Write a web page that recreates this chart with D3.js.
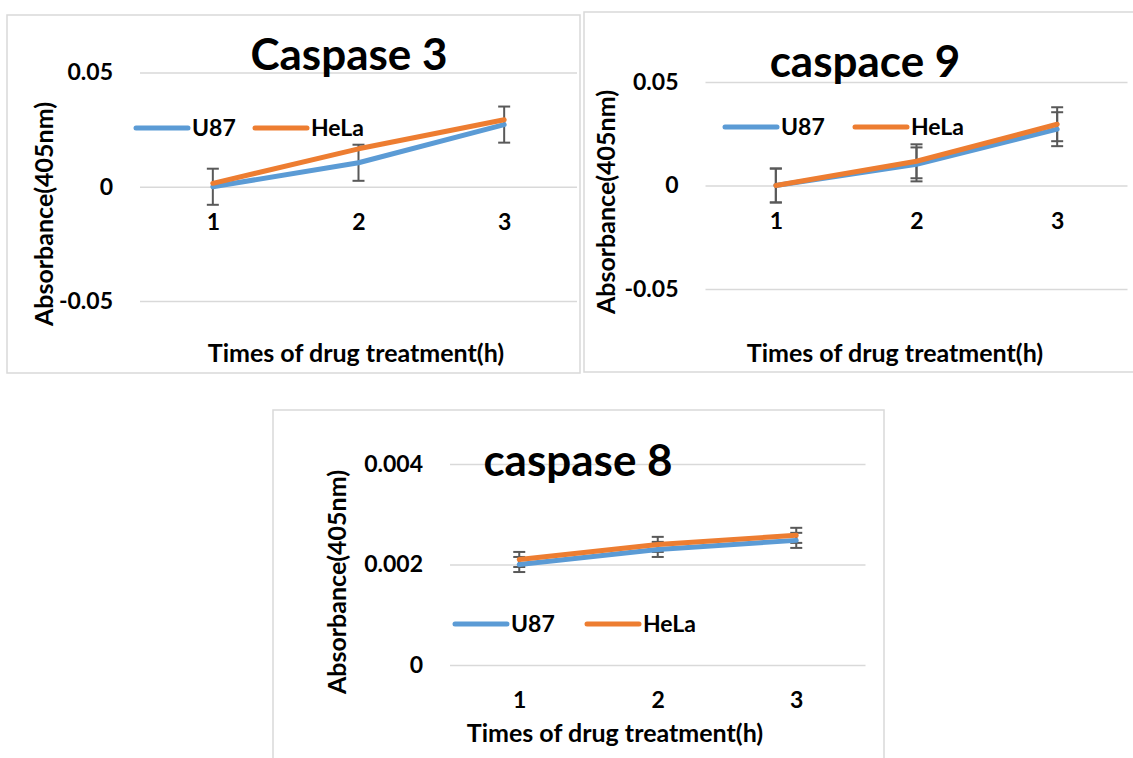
<!DOCTYPE html>
<html>
<head>
<meta charset="utf-8">
<script src="https://cdn.jsdelivr.net/npm/d3@7"></script>
<style>
  body { margin: 0; background: #fff; }
  svg text { font-family: Lato, 'Open Sans', sans-serif; font-weight: bold; fill: #000; }
</style>
</head>
<body>
<svg id="canvas"></svg>
<script>
// category labels (hours)
const hours = ['1', '2', '3'];

// caspase 3
const c3U87 = [0, 0.0105, 0.0272];
const c3HeLa = [0.0015, 0.0166, 0.0293];
const c3U87Err = [0.0079, 0.0079, 0.0079];

// caspace 9
const c9U87 = [0, 0.0102, 0.0272];
const c9HeLa = [0, 0.0117, 0.0296];
const c9U87Err = [0.0082, 0.0082, 0.0082];
const c9HeLaErr = [0.0082, 0.0082, 0.0082];

// caspase 8
const c8U87 = [0.0020, 0.0023, 0.00248];
const c8HeLa = [0.0021, 0.0024, 0.00258];
const c8U87Err = [0.00015, 0.00015, 0.00015];
const c8HeLaErr = [0.00015, 0.00015, 0.00015];

const ticksWide = [-0.05, 0, 0.05];
const ticksSmall = [0, 0.002, 0.004];

const seriesNames = ['U87', 'HeLa'];
const colors = ['#5B9BD5', '#ED7D31'];

let width = 1133;
let height = 758;

let labelSize = 23;
let axisTitleSize = 25;
let titleSize = 44;

let canvas = d3.select('#canvas');
canvas.attr('width', width).attr('height', height);

// layout for each chart box
let panels = [
    {
        title: 'Caspase 3', u87: c3U87, hela: c3HeLa, u87Err: c3U87Err, helaErr: null,
        ticks: ticksWide, box: [7, 15, 573, 358],
        xRange: [140, 577], yRange: [301, 72.5],
        titleX: 349, titleY: 70, legendX: [136, 255], legendY: 128,
        yTitleX: 53, yTitleY: 214, xTitleX: 356, xTitleY: 362
    },
    {
        title: 'caspace 9', u87: c9U87, hela: c9HeLa, u87Err: c9U87Err, helaErr: c9HeLaErr,
        ticks: ticksWide, box: [584, 12, 560, 360],
        xRange: [705.5, 1127.5], yRange: [289, 82],
        titleX: 865, titleY: 77, legendX: [725, 855], legendY: 127,
        yTitleX: 615, yTitleY: 202, xTitleX: 895, xTitleY: 362
    },
    {
        title: 'caspase 8', u87: c8U87, hela: c8HeLa, u87Err: c8U87Err, helaErr: c8HeLaErr,
        ticks: ticksSmall, box: [273, 410, 611, 380],
        xRange: [450, 865.5], yRange: [665, 464],
        titleX: 578, titleY: 476, legendX: [455, 587], legendY: 624,
        yTitleX: 346, yTitleY: 582, xTitleX: 615, xTitleY: 742
    }
];

function drawPanel (p) {
    let g = canvas.append('g');

    g.append('rect')
        .attr('x', p.box[0]).attr('y', p.box[1])
        .attr('width', p.box[2]).attr('height', p.box[3])
        .attr('fill', '#fff')
        .attr('stroke', '#D9D9D9')
        .attr('stroke-width', 1.5);

    let xScale = d3.scalePoint()
                    .domain(hours)
                    .range(p.xRange)
                    .padding(0.5);

    let yScale = d3.scaleLinear()
                    .domain([p.ticks[0], p.ticks[p.ticks.length - 1]])
                    .range(p.yRange);

    // y axis with gridlines
    let yAxis = d3.axisLeft(yScale)
                    .tickValues(p.ticks)
                    .tickFormat((d) => String(d))
                    .tickSize(-(p.xRange[1] - p.xRange[0]))
                    .tickPadding(27);

    let yg = g.append('g')
                .attr('transform', 'translate(' + p.xRange[0] + ', 0)')
                .call(yAxis);
    yg.select('.domain').remove();
    yg.selectAll('line').attr('stroke', '#D9D9D9').attr('stroke-width', 1.5);
    yg.selectAll('text').attr('font-size', labelSize).attr('font-family', null);

    // x axis labels sit below the zero line
    let xAxis = d3.axisBottom(xScale).tickSize(0);
    let xg = g.append('g')
                .attr('transform', 'translate(0, ' + yScale(0) + ')')
                .call(xAxis);
    xg.select('.domain').remove();
    xg.selectAll('text')
        .attr('font-size', labelSize)
        .attr('font-family', null)
        .attr('dy', 0)
        .attr('y', 43);

    // error bars
    let errSets = [[p.u87, p.u87Err], [p.hela, p.helaErr]];
    errSets.forEach((s) => {
        if (!s[1]) return;
        let vals = s[0];
        let errs = s[1];
        hours.forEach((h, i) => {
            let x = xScale(h);
            let top = yScale(vals[i] + errs[i]);
            let bottom = yScale(vals[i] - errs[i]);
            g.append('line').attr('x1', x).attr('x2', x).attr('y1', top).attr('y2', bottom)
                .attr('stroke', '#595959').attr('stroke-width', 2);
            g.append('line').attr('x1', x - 6).attr('x2', x + 6).attr('y1', top).attr('y2', top)
                .attr('stroke', '#595959').attr('stroke-width', 2);
            g.append('line').attr('x1', x - 6).attr('x2', x + 6).attr('y1', bottom).attr('y2', bottom)
                .attr('stroke', '#595959').attr('stroke-width', 2);
        });
    });

    // series lines
    let line = d3.line()
                .x((d, i) => xScale(hours[i]))
                .y((d) => yScale(d));

    [p.u87, p.hela].forEach((vals, k) => {
        g.append('path')
            .datum(vals)
            .attr('d', line)
            .attr('fill', 'none')
            .attr('stroke', colors[k])
            .attr('stroke-width', 5)
            .attr('stroke-linejoin', 'round')
            .attr('stroke-linecap', 'round');
    });

    // legend
    seriesNames.forEach((name, k) => {
        let lx = p.legendX[k];
        g.append('line')
            .attr('x1', lx).attr('x2', lx + 52)
            .attr('y1', p.legendY).attr('y2', p.legendY)
            .attr('stroke', colors[k])
            .attr('stroke-width', 5)
            .attr('stroke-linecap', 'round');
        g.append('text')
            .attr('x', lx + 56)
            .attr('y', p.legendY + 8)
            .attr('font-size', labelSize)
            .text(name);
    });

    // titles
    g.append('text')
        .attr('x', p.titleX).attr('y', p.titleY)
        .attr('text-anchor', 'middle')
        .attr('font-size', titleSize)
        .text(p.title);

    g.append('text')
        .attr('x', p.xTitleX).attr('y', p.xTitleY)
        .attr('text-anchor', 'middle')
        .attr('font-size', axisTitleSize)
        .text('Times of drug treatment(h)');

    g.append('text')
        .attr('transform', 'translate(' + p.yTitleX + ', ' + p.yTitleY + ') rotate(-90)')
        .attr('text-anchor', 'middle')
        .attr('font-size', axisTitleSize)
        .text('Absorbance(405nm)');
}

panels.forEach(drawPanel);
</script>
</body>
</html>
